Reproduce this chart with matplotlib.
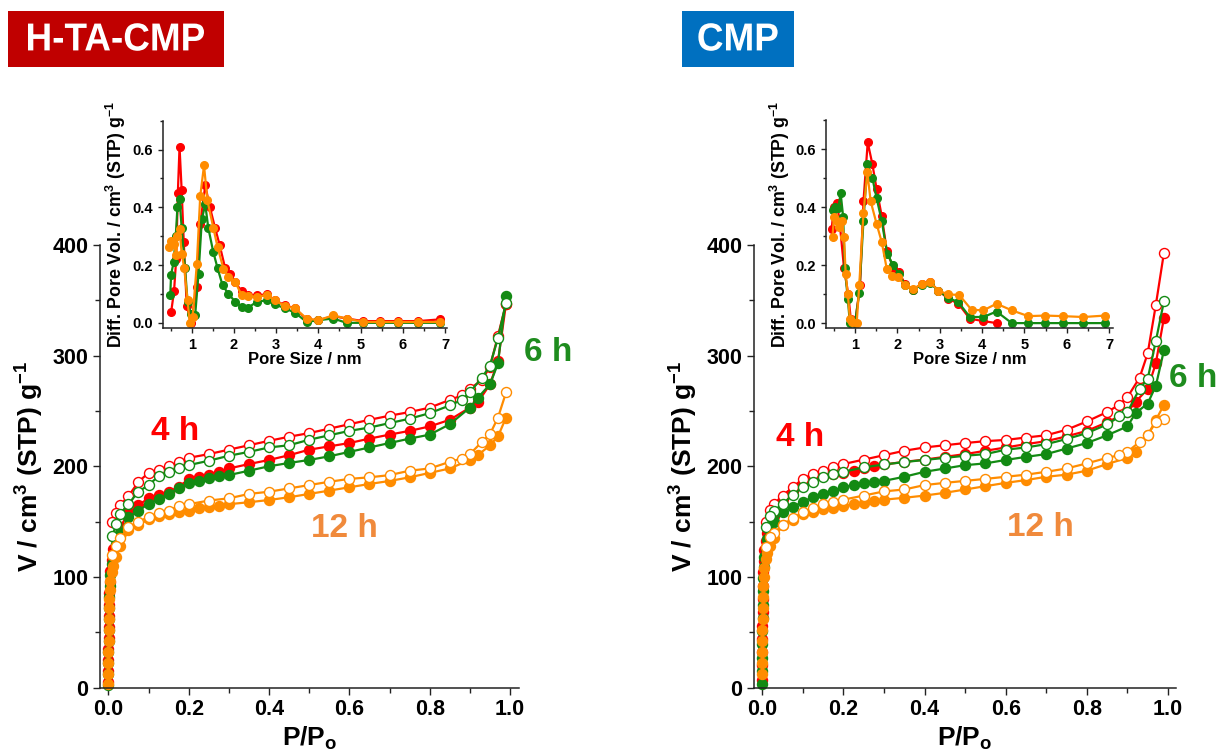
import matplotlib
matplotlib.use("Agg")
import matplotlib.pyplot as plt
from matplotlib.patches import Rectangle, PathPatch
from matplotlib.ticker import MultipleLocator, FormatStrFormatter
from matplotlib.textpath import TextPath
from matplotlib.font_manager import FontProperties
from matplotlib.transforms import Affine2D, IdentityTransform

RED = "#FF0000"
GREEN = "#138A13"
ORANGE = "#FF8C00"

# relative pressure grids shared by the isotherms
P_ADS = [0.00002, 0.00005, 0.0001, 0.0002, 0.0004, 0.0007, 0.001, 0.0015, 0.002, 0.003,
         0.005, 0.008, 0.012, 0.02, 0.03, 0.05, 0.075, 0.1, 0.125, 0.15, 0.175, 0.2,
         0.225, 0.25, 0.275, 0.3, 0.35, 0.4, 0.45, 0.5, 0.55, 0.6, 0.65, 0.7, 0.75,
         0.8, 0.85, 0.9, 0.92, 0.95, 0.97, 0.99]
P_DES = [0.99, 0.97, 0.95, 0.93, 0.9, 0.88, 0.85, 0.8, 0.75, 0.7, 0.65, 0.6, 0.55, 0.5,
         0.45, 0.4, 0.35, 0.3, 0.25, 0.2, 0.175, 0.15, 0.125, 0.1, 0.075, 0.05, 0.03,
         0.02, 0.01]

# H-TA-CMP isotherms
HTA_ADS_4H = [5, 15, 25, 35, 45, 55, 65, 75, 85, 95, 105, 115, 125, 135, 145, 158, 165,
              171, 174, 177, 181, 188.6, 190, 192, 195, 198, 202, 205.7, 210, 215, 218,
              221, 225, 228.6, 232, 236, 242, 253, 258, 274, 295, 347]
HTA_DES_4H = [347, 318, 290, 278, 270, 264, 260, 253, 249, 245.7, 242, 238, 234, 230,
              226.7, 223, 219, 215, 211, 207.6, 204, 200, 197, 194, 186, 173, 165, 158, 150]
HTA_ADS_6H = [2, 12, 22, 32, 42, 52, 62, 72, 82, 92, 102, 112, 120, 130, 140, 154, 160,
              166, 170, 175, 180, 185, 187, 189, 191, 192, 196, 200, 203, 205.7, 209, 213,
              217, 221, 225, 228.6, 238, 253, 262, 274, 293, 354]
HTA_DES_6H = [348, 316, 291, 280, 267, 260, 255, 248, 243, 239, 235, 232, 228, 224, 219,
              217, 213, 209.5, 205, 201, 198, 195, 191, 183, 177, 166, 157, 148, 137]
HTA_ADS_12H = [3, 12, 22, 32, 42, 52, 62, 72, 80, 88, 96, 104, 110, 118, 128, 142, 147,
               152, 155, 157, 159, 160, 162, 163, 164, 165.7, 167.5, 169.5, 172, 175, 178,
               181, 184, 186.7, 190, 194, 198, 205.7, 210, 219, 227, 244]
HTA_DES_12H = [266.7, 244, 229, 222, 211, 207, 204, 198, 196, 192, 190, 188.6, 186, 183,
               180, 177, 175, 171, 169, 165.7, 164, 160, 158, 154, 150, 145, 135, 128, 120]

# CMP isotherms
CMP_ADS_4H = [7, 20, 32, 44, 56, 68, 80, 92, 104, 114, 124, 132, 140, 148, 155, 170, 178,
              185, 188, 191, 193, 194, 196, 198, 200, 201.6, 204, 206, 208.5, 211, 214,
              217, 220, 222.7, 227, 232, 239.7, 249, 258, 270, 293, 334]
CMP_DES_4H = [392.8, 345.6, 302, 280, 262.4, 255.6, 249, 240.5, 233, 228, 226, 223.8,
              222.7, 221, 219, 217, 214, 210, 206, 202, 199, 196, 193, 188.7, 181, 173.5,
              166, 160.3, 150]
CMP_ADS_6H = [3, 15, 27, 39, 51, 63, 75, 87, 99, 109, 118, 126, 134, 142, 150, 158.4, 163,
              168, 172, 175, 178, 181, 183, 185, 186, 186.8, 190.5, 195, 198, 201, 202.6,
              205.7, 208.5, 211, 216, 221, 228, 236, 248, 256.7, 272.6, 304.7]
CMP_DES_6H = [349, 313, 279, 270, 249, 245, 237.8, 230, 224.6, 220, 217, 215, 211, 209.5,
              207.6, 205.7, 203.8, 201.6, 199, 195, 193, 190.5, 186, 181, 174, 166, 160,
              154.6, 145]
CMP_ADS_12H = [12, 22, 32, 42, 52, 62, 72, 82, 92, 100, 108, 116, 122, 128, 135, 147, 151,
               156.5, 159, 161, 162.5, 164, 165.5, 167, 168.5, 169.8, 171.5, 173.5, 176,
               179, 182, 185, 187.5, 190.5, 192.4, 196, 202, 207.6, 213, 228, 241.6, 255.6]
CMP_DES_12H = [243, 239.7, 228.4, 222, 213, 210, 207.6, 202.6, 198, 195, 192.4, 190.5,
               188.6, 186.8, 185, 183, 179, 177.3, 173.5, 169.8, 168, 166, 162, 158.4, 153,
               147, 140, 135.7, 127]

# pore size distributions (insets)
HTA_PSD_X_4H = [0.51, 0.58, 0.63, 0.67, 0.71, 0.76, 0.81, 0.88, 0.98, 1.12, 1.2, 1.32, 1.43,
                1.55, 1.66, 1.79, 1.91, 2.03, 2.18, 2.34, 2.54, 2.78, 2.97, 3.21, 3.45, 3.72,
                4.0, 4.35, 4.67, 5.06, 5.46, 5.89, 6.37, 6.88]
HTA_PSD_Y_4H = [0.036, 0.11, 0.22, 0.45, 0.61, 0.46, 0.28, 0.06, 0.0, 0.124, 0.343, 0.476,
                0.40, 0.33, 0.27, 0.19, 0.17, 0.14, 0.11, 0.095, 0.095, 0.099, 0.078, 0.061,
                0.05, 0.012, 0.009, 0.023, 0.015, 0.006, 0.006, 0.006, 0.006, 0.012]
HTA_PSD_X_6H = [0.49, 0.51, 0.57, 0.62, 0.66, 0.71, 0.76, 0.84, 0.9, 0.98, 1.08, 1.16, 1.24,
                1.32, 1.39, 1.51, 1.61, 1.73, 1.87, 2.03, 2.18, 2.34, 2.54, 2.78, 2.97, 3.21,
                3.45, 3.72, 4.0, 4.35, 4.67, 5.06, 5.46, 5.89, 6.37, 6.88]
HTA_PSD_Y_6H = [0.096, 0.167, 0.21, 0.30, 0.40, 0.43, 0.33, 0.19, 0.073, 0.032, 0.026, 0.17,
                0.36, 0.41, 0.33, 0.245, 0.19, 0.13, 0.10, 0.073, 0.055, 0.053, 0.073, 0.078,
                0.064, 0.05, 0.035, 0.003, 0.009, 0.015, 0.0, 0.0, 0.0, 0.0, 0.0, 0.0]
HTA_PSD_X_12H = [0.47, 0.51, 0.58, 0.63, 0.66, 0.71, 0.76, 0.82, 0.9, 0.95, 1.02, 1.12, 1.2,
                 1.29, 1.37, 1.51, 1.61, 1.75, 1.87, 2.03, 2.18, 2.34, 2.54, 2.78, 2.97, 3.21,
                 3.45, 3.72, 4.0, 4.35, 4.67, 5.06, 5.46, 5.89, 6.37, 6.88]
HTA_PSD_Y_12H = [0.263, 0.285, 0.274, 0.234, 0.30, 0.326, 0.24, 0.19, 0.078, 0.0, 0.02,
                 0.205, 0.438, 0.545, 0.424, 0.33, 0.263, 0.188, 0.159, 0.142, 0.096, 0.092,
                 0.09, 0.096, 0.078, 0.058, 0.05, 0.015, 0.009, 0.026, 0.015, 0.003, 0.003,
                 0.003, 0.003, 0.003]

CMP_PSD_X_4H = [0.45, 0.50, 0.57, 0.63, 0.74, 0.84, 0.90, 1.0, 1.12, 1.2, 1.30, 1.41, 1.51,
                1.63, 1.75, 1.90, 2.04, 2.18, 2.38, 2.57, 2.77, 2.97, 3.2, 3.44, 3.71, 4.03,
                4.34]
CMP_PSD_Y_4H = [0.325, 0.40, 0.413, 0.36, 0.19, 0.10, 0.015, 0.0, 0.13, 0.42, 0.623, 0.548,
                0.462, 0.37, 0.25, 0.19, 0.175, 0.135, 0.115, 0.135, 0.141, 0.112, 0.084,
                0.067, 0.015, 0.007, 0.0]
CMP_PSD_X_6H = [0.49, 0.53, 0.61, 0.66, 0.72, 0.76, 0.83, 0.88, 1.0, 1.1, 1.2, 1.29, 1.41,
                1.51, 1.63, 1.76, 1.90, 2.04, 2.18, 2.38, 2.57, 2.77, 2.97, 3.2, 3.44, 3.71,
                4.03, 4.34, 4.7, 5.09, 5.48, 5.91, 6.39, 6.9]
CMP_PSD_Y_6H = [0.39, 0.40, 0.397, 0.45, 0.367, 0.19, 0.084, 0.0, 0.0, 0.103, 0.353, 0.548,
                0.5, 0.431, 0.353, 0.239, 0.20, 0.17, 0.13, 0.115, 0.133, 0.138, 0.112,
                0.087, 0.072, 0.021, 0.021, 0.04, 0.0, 0.0, 0.0, 0.0, 0.0, 0.0]
CMP_PSD_X_12H = [0.47, 0.50, 0.57, 0.63, 0.69, 0.74, 0.78, 0.83, 0.88, 0.94, 1.04, 1.1, 1.2,
                 1.29, 1.37, 1.51, 1.63, 1.75, 1.88, 2.02, 2.18, 2.38, 2.57, 2.77, 2.97, 3.2,
                 3.46, 3.75, 4.03, 4.34, 4.7, 5.09, 5.48, 5.91, 6.39, 6.9]
CMP_PSD_Y_12H = [0.296, 0.365, 0.353, 0.33, 0.353, 0.298, 0.17, 0.10, 0.015, 0.003, 0.0,
                 0.13, 0.38, 0.52, 0.42, 0.342, 0.28, 0.187, 0.164, 0.158, 0.13, 0.118,
                 0.135, 0.141, 0.112, 0.099, 0.097, 0.046, 0.044, 0.067, 0.044, 0.024,
                 0.026, 0.024, 0.021, 0.026]

TIME_LABELS = ["4 h", "6 h", "12 h"]

plt.rcParams["font.family"] = ["Liberation Sans", "DejaVu Sans"]
plt.rcParams["font.weight"] = "bold"
plt.rcParams["mathtext.default"] = "bf"

W, H = 1223, 756


def style_axes(ax, tick_size, major_len, minor_len):
    for side in ("top", "right"):
        ax.spines[side].set_visible(False)
    for side in ("left", "bottom"):
        ax.spines[side].set_linewidth(1.1)
        ax.spines[side].set_color("#222222")
    ax.tick_params(which="major", direction="out", length=major_len, width=1.0,
                   labelsize=tick_size, color="#222222")
    ax.tick_params(which="minor", direction="out", length=minor_len, width=1.0,
                   color="#222222")


def draw_isotherm(ax, ads, des, color):
    kw = dict(color=color, lw=1.6, marker="o", ms=7.2, clip_on=False)
    ax.plot(P_ADS, ads, mfc=color, mec=color, **kw)
    ax.plot(P_DES, des, mfc="white", mec=color, mew=1.0, **kw)


def main_panel(rect, xlim, series, labels_pos):
    ax = fig.add_axes(rect)
    for (ads, des), color in zip(series, [RED, GREEN, ORANGE]):
        draw_isotherm(ax, ads, des, color)
    ax.set_xlim(*xlim)
    ax.set_ylim(0, 400)
    ax.xaxis.set_major_locator(MultipleLocator(0.2))
    ax.xaxis.set_minor_locator(MultipleLocator(0.1))
    ax.yaxis.set_major_locator(MultipleLocator(100))
    ax.yaxis.set_minor_locator(MultipleLocator(50))
    ax.xaxis.set_major_formatter(FormatStrFormatter("%.1f"))
    style_axes(ax, 15.5, 5, 3.5)
    ax.set_xlabel(r"P/P$_\mathregular{o}$", fontsize=19, fontweight="bold", labelpad=3)
    ax.set_ylabel(r"V / cm$^\mathregular{3}$ (STP) g$^\mathregular{-1}$", fontsize=19,
                  fontweight="bold", labelpad=5)
    for text, (x, y), color in zip(TIME_LABELS, labels_pos, ["#FF0000", "#1E8C1E", "#F08A3C"]):
        ax.text(x, y, text, color=color, fontsize=24, fontweight="bold",
                ha="center", va="center", clip_on=False)
    return ax


def inset_panel(rect, xlim, series):
    ax = fig.add_axes(rect)
    for (x, y), color in zip(series, [RED, GREEN, ORANGE]):
        ax.plot(x, y, color=color, lw=1.6, marker="o", ms=5.5, clip_on=False)
    ax.set_xlim(*xlim)
    ax.set_ylim(-0.018, 0.7)
    ax.xaxis.set_major_locator(MultipleLocator(1))
    ax.xaxis.set_minor_locator(MultipleLocator(0.5))
    ax.yaxis.set_major_locator(MultipleLocator(0.2))
    ax.yaxis.set_minor_locator(MultipleLocator(0.1))
    ax.yaxis.set_major_formatter(FormatStrFormatter("%.1f"))
    style_axes(ax, 10.5, 3.5, 2.5)
    ax.set_xlabel("Pore Size / nm", fontsize=12, fontweight="bold", labelpad=0)
    ax.set_ylabel(r"Diff. Pore Vol. / cm$^\mathregular{3}$ (STP) g$^\mathregular{-1}$",
                  fontsize=12.8, fontweight="bold", labelpad=3)
    ax.patch.set_alpha(0)
    return ax


def title_box(x0, x1, text, color, sx):
    # coloured label box with slightly condensed white lettering (pixel coords)
    fig.add_artist(Rectangle((x0, H - 67), x1 - x0, 56, transform=IdentityTransform(),
                             facecolor=color, edgecolor="none"))
    tp = TextPath((0, 0), text, size=39, prop=FontProperties(family="Liberation Sans",
                                                             weight="bold"))
    ext = tp.get_extents()
    tr = (Affine2D().translate(-(ext.x0 + ext.x1) / 2, -(ext.y0 + ext.y1) / 2)
          .scale(sx, 1).translate((x0 + x1) / 2, H - 37))
    fig.add_artist(PathPatch(tr.transform_path(tp), transform=IdentityTransform(),
                             facecolor="white", edgecolor="none"))


fig = plt.figure(figsize=(12.23, 7.56), dpi=100)

main_panel([0.0818, 0.0906, 0.3426, 0.5853], (-0.0207, 1.0224),
           [(HTA_ADS_4H, HTA_DES_4H), (HTA_ADS_6H, HTA_DES_6H), (HTA_ADS_12H, HTA_DES_12H)],
           [(0.166, 231), (1.095, 303), (0.587, 144)])
main_panel([0.6165, 0.0906, 0.3453, 0.5853], (-0.0205, 1.0205),
           [(CMP_ADS_4H, CMP_DES_4H), (CMP_ADS_6H, CMP_DES_6H), (CMP_ADS_12H, CMP_DES_12H)],
           [(0.093, 226), (1.062, 279), (0.685, 145)])

inset_panel([0.1330, 0.5661, 0.2322, 0.2742], (0.31, 7.04),
            [(HTA_PSD_X_4H, HTA_PSD_Y_4H), (HTA_PSD_X_6H, HTA_PSD_Y_6H),
             (HTA_PSD_X_12H, HTA_PSD_Y_12H)])
inset_panel([0.6754, 0.5657, 0.2347, 0.2755], (0.316, 7.09),
            [(CMP_PSD_X_4H, CMP_PSD_Y_4H), (CMP_PSD_X_6H, CMP_PSD_Y_6H),
             (CMP_PSD_X_12H, CMP_PSD_Y_12H)])

_ref = TextPath((0, 0), "H-TA-CMP", size=39,
                prop=FontProperties(family="Liberation Sans", weight="bold")).get_extents()
SX = 176 / _ref.width
title_box(8, 224, "H-TA-CMP", "#C00000", SX)
title_box(682, 794, "CMP", "#0070C0", SX)

fig.savefig("out.png", dpi=100)
